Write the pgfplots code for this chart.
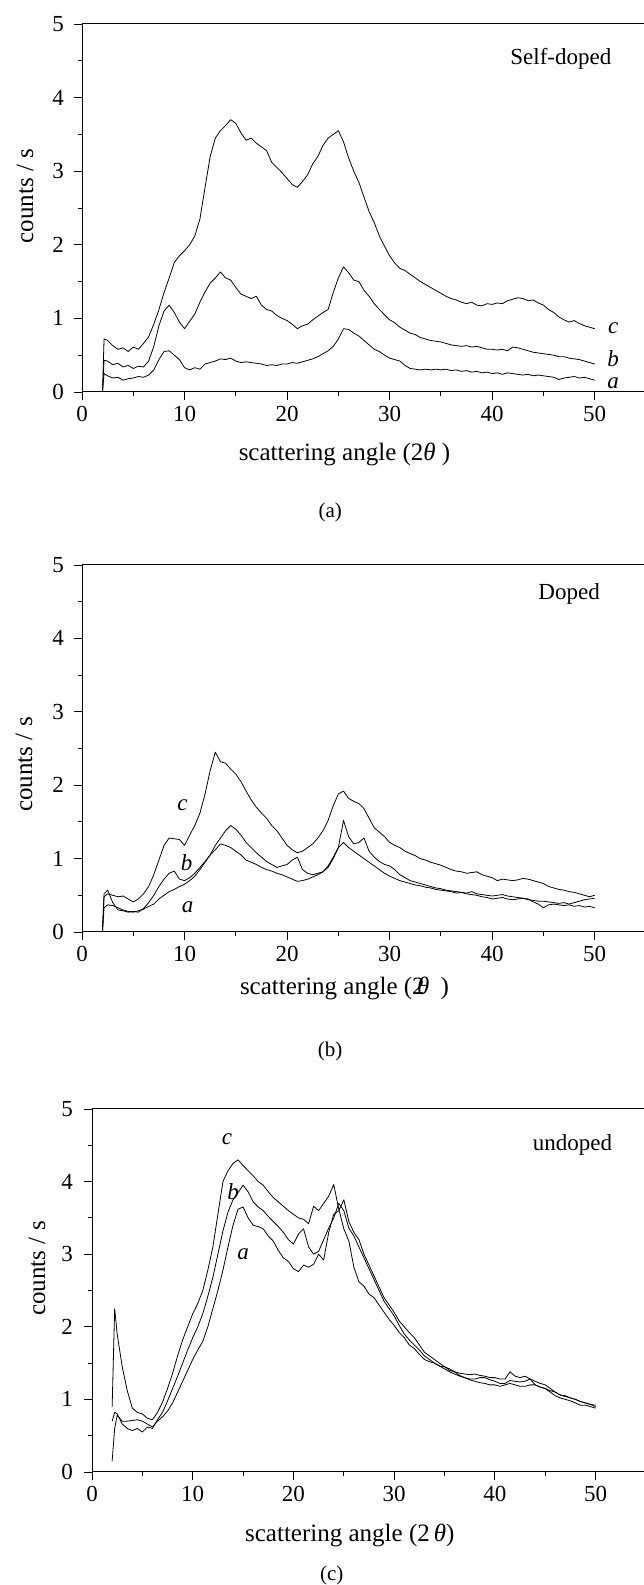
\documentclass[border=0pt]{standalone}
\usepackage{fontspec}
\setmainfont{Liberation Serif}
\usepackage{pgfplots}
\pgfplotsset{compat=1.18}
\usepackage{pgfplotstable}

\pgfplotstableread{
x a b c
2.0 0 0 0
2.15 0.25 0.43 0.72
2.5 0.22 0.42 0.70
3.0 0.19 0.37 0.63
3.5 0.20 0.39 0.58
4.0 0.16 0.34 0.60
4.5 0.18 0.36 0.55
5.0 0.19 0.32 0.61
5.5 0.21 0.35 0.58
6.0 0.20 0.34 0.66
6.5 0.23 0.42 0.75
7.0 0.30 0.62 0.92
7.5 0.44 0.90 1.12
8.0 0.55 1.10 1.35
8.5 0.56 1.18 1.55
9.0 0.50 1.08 1.76
9.5 0.44 0.95 1.85
10.0 0.33 0.86 1.92
10.5 0.30 0.96 2.00
11.0 0.33 1.06 2.12
11.5 0.31 1.22 2.35
12.0 0.38 1.36 2.78
12.5 0.40 1.48 3.20
13.0 0.42 1.55 3.45
13.5 0.45 1.63 3.55
14.0 0.44 1.55 3.62
14.5 0.46 1.52 3.70
15.0 0.42 1.42 3.65
15.5 0.40 1.33 3.52
16.0 0.41 1.30 3.42
16.5 0.40 1.27 3.45
17.0 0.39 1.30 3.38
17.5 0.38 1.18 3.33
18.0 0.36 1.12 3.28
18.5 0.37 1.10 3.12
19.0 0.36 1.04 3.05
19.5 0.38 1.00 2.98
20.0 0.38 0.97 2.90
20.5 0.40 0.92 2.82
21.0 0.39 0.86 2.78
21.5 0.41 0.90 2.86
22.0 0.43 0.92 2.95
22.5 0.45 0.98 3.10
23.0 0.48 1.03 3.20
23.5 0.52 1.08 3.35
24.0 0.56 1.12 3.45
24.5 0.62 1.35 3.50
25.0 0.72 1.55 3.55
25.5 0.86 1.70 3.40
26.0 0.85 1.62 3.18
26.5 0.80 1.52 3.00
27.0 0.76 1.50 2.85
27.5 0.70 1.38 2.65
28.0 0.64 1.30 2.45
28.5 0.58 1.20 2.30
29.0 0.55 1.12 2.12
29.5 0.50 1.05 1.98
30.0 0.46 0.98 1.85
30.5 0.44 0.94 1.75
31.0 0.42 0.88 1.68
31.5 0.36 0.84 1.65
32.0 0.32 0.80 1.60
32.5 0.31 0.78 1.55
33.0 0.30 0.74 1.50
33.5 0.31 0.72 1.46
34.0 0.30 0.70 1.42
34.5 0.31 0.69 1.38
35.0 0.30 0.68 1.34
35.5 0.31 0.66 1.30
36.0 0.29 0.64 1.27
36.5 0.30 0.63 1.25
37.0 0.28 0.62 1.22
37.5 0.29 0.63 1.20
38.0 0.27 0.61 1.22
38.5 0.28 0.62 1.18
39.0 0.26 0.60 1.17
39.5 0.27 0.58 1.20
40.0 0.25 0.58 1.19
40.5 0.26 0.57 1.21
41.0 0.24 0.58 1.20
41.5 0.26 0.56 1.24
42.0 0.25 0.61 1.26
42.5 0.24 0.60 1.28
43.0 0.23 0.58 1.27
43.5 0.24 0.56 1.24
44.0 0.22 0.54 1.25
44.5 0.23 0.53 1.21
45.0 0.22 0.52 1.18
45.5 0.21 0.51 1.12
46.0 0.20 0.50 1.08
46.5 0.17 0.48 1.02
47.0 0.19 0.48 0.98
47.5 0.20 0.46 0.95
48.0 0.21 0.45 0.97
48.5 0.19 0.44 0.93
49.0 0.20 0.42 0.90
49.5 0.18 0.40 0.88
50.0 0.16 0.38 0.86
}\dataA

\pgfplotstableread{
x a b c
2.0 0 0 0.05
2.15 0.33 0.52 0.48
2.5 0.37 0.57 0.52
3.0 0.36 0.40 0.50
3.5 0.33 0.30 0.48
4.0 0.30 0.29 0.49
4.5 0.28 0.27 0.45
5.0 0.27 0.28 0.41
5.5 0.29 0.27 0.45
6.0 0.31 0.32 0.52
6.5 0.35 0.40 0.62
7.0 0.38 0.50 0.78
7.5 0.45 0.62 0.98
8.0 0.50 0.72 1.18
8.5 0.55 0.80 1.28
9.0 0.58 0.83 1.27
9.5 0.62 0.72 1.26
10.0 0.65 0.70 1.18
10.5 0.70 0.74 1.32
11.0 0.76 0.80 1.45
11.5 0.85 0.88 1.62
12.0 0.95 0.96 1.88
12.5 1.05 1.05 2.20
13.0 1.12 1.18 2.45
13.5 1.20 1.28 2.32
14.0 1.18 1.38 2.30
14.5 1.15 1.45 2.22
15.0 1.10 1.40 2.15
15.5 1.05 1.32 2.05
16.0 0.98 1.22 1.92
16.5 0.95 1.15 1.80
17.0 0.92 1.08 1.70
17.5 0.88 1.02 1.62
18.0 0.85 0.96 1.55
18.5 0.83 0.92 1.45
19.0 0.80 0.88 1.38
19.5 0.78 0.90 1.28
20.0 0.75 0.92 1.18
20.5 0.72 0.98 1.12
21.0 0.69 1.02 1.08
21.5 0.70 0.85 1.10
22.0 0.72 0.80 1.15
22.5 0.75 0.78 1.20
23.0 0.78 0.80 1.28
23.5 0.82 0.82 1.38
24.0 0.90 0.88 1.52
24.5 1.02 1.00 1.72
25.0 1.15 1.15 1.88
25.5 1.22 1.52 1.92
26.0 1.15 1.30 1.82
26.5 1.10 1.20 1.78
27.0 1.05 1.22 1.75
27.5 1.00 1.28 1.68
28.0 0.95 1.10 1.55
28.5 0.90 1.02 1.42
29.0 0.85 0.96 1.36
29.5 0.80 0.92 1.30
30.0 0.76 0.90 1.22
30.5 0.73 0.85 1.18
31.0 0.70 0.78 1.15
31.5 0.68 0.74 1.10
32.0 0.66 0.70 1.07
32.5 0.64 0.68 1.04
33.0 0.63 0.66 1.00
33.5 0.61 0.64 0.98
34.0 0.60 0.62 0.95
34.5 0.58 0.60 0.93
35.0 0.57 0.59 0.91
35.5 0.56 0.57 0.88
36.0 0.55 0.56 0.85
36.5 0.53 0.55 0.83
37.0 0.54 0.54 0.82
37.5 0.52 0.53 0.80
38.0 0.51 0.55 0.81
38.5 0.50 0.52 0.82
39.0 0.48 0.51 0.78
39.5 0.47 0.50 0.76
40.0 0.45 0.49 0.74
40.5 0.46 0.50 0.70
41.0 0.47 0.51 0.72
41.5 0.45 0.49 0.71
42.0 0.44 0.48 0.70
42.5 0.45 0.47 0.71
43.0 0.46 0.46 0.73
43.5 0.45 0.44 0.72
44.0 0.41 0.43 0.70
44.5 0.38 0.42 0.68
45.0 0.33 0.42 0.66
45.5 0.37 0.41 0.62
46.0 0.38 0.40 0.60
46.5 0.37 0.39 0.58
47.0 0.36 0.40 0.57
47.5 0.37 0.38 0.55
48.0 0.35 0.40 0.54
48.5 0.36 0.42 0.52
49.0 0.34 0.44 0.50
49.5 0.35 0.45 0.48
50.0 0.33 0.46 0.50
}\dataB

\pgfplotstableread{
x a b c
2.0 0.15 0.70 0.90
2.25 0.60 0.82 2.25
2.5 0.78 0.80 1.90
3.0 0.70 0.66 1.45
3.5 0.70 0.60 1.12
4.0 0.71 0.57 0.88
4.5 0.72 0.60 0.82
5.0 0.70 0.55 0.80
5.5 0.66 0.62 0.74
6.0 0.62 0.60 0.72
6.5 0.70 0.72 0.82
7.0 0.76 0.82 0.96
7.5 0.84 0.98 1.15
8.0 0.95 1.15 1.36
8.5 1.10 1.32 1.60
9.0 1.25 1.50 1.82
9.5 1.40 1.68 2.00
10.0 1.55 1.85 2.18
10.5 1.68 2.00 2.32
11.0 1.80 2.18 2.50
11.5 2.00 2.42 2.78
12.0 2.25 2.68 3.10
12.5 2.50 3.00 3.55
13.0 2.78 3.32 4.00
13.5 3.10 3.58 4.15
14.0 3.40 3.75 4.25
14.5 3.62 3.85 4.30
15.0 3.65 3.95 4.22
15.5 3.50 3.86 4.15
16.0 3.40 3.72 4.08
16.5 3.38 3.65 4.00
17.0 3.35 3.60 3.95
17.5 3.25 3.52 3.86
18.0 3.18 3.45 3.78
18.5 3.05 3.38 3.72
19.0 2.95 3.30 3.66
19.5 2.90 3.20 3.60
20.0 2.80 3.14 3.55
20.5 2.76 3.28 3.50
21.0 2.85 3.35 3.48
21.5 2.82 3.10 3.42
22.0 2.86 3.00 3.66
22.5 3.00 3.04 3.60
23.0 2.92 3.20 3.70
23.5 3.30 3.36 3.80
24.0 3.55 3.50 3.96
24.5 3.60 3.70 3.62
25.0 3.75 3.60 3.35
25.5 3.45 3.36 3.18
26.0 3.30 3.25 2.82
26.5 3.20 3.10 2.62
27.0 3.00 2.95 2.56
27.5 2.85 2.80 2.45
28.0 2.70 2.65 2.40
28.5 2.55 2.50 2.30
29.0 2.40 2.35 2.20
29.5 2.30 2.25 2.10
30.0 2.20 2.15 2.02
30.5 2.08 2.02 1.92
31.0 2.00 1.90 1.85
31.5 1.92 1.82 1.75
32.0 1.85 1.75 1.70
32.5 1.75 1.68 1.62
33.0 1.65 1.60 1.55
33.5 1.60 1.55 1.52
34.0 1.55 1.50 1.50
34.5 1.50 1.46 1.46
35.0 1.45 1.42 1.45
35.5 1.42 1.38 1.40
36.0 1.38 1.35 1.38
36.5 1.33 1.32 1.36
37.0 1.30 1.30 1.35
37.5 1.27 1.28 1.34
38.0 1.25 1.28 1.35
38.5 1.23 1.30 1.33
39.0 1.22 1.30 1.32
39.5 1.20 1.27 1.30
40.0 1.20 1.25 1.30
40.5 1.18 1.22 1.28
41.0 1.20 1.22 1.28
41.5 1.22 1.26 1.38
42.0 1.20 1.25 1.32
42.5 1.18 1.24 1.30
43.0 1.18 1.25 1.32
43.5 1.20 1.28 1.28
44.0 1.20 1.20 1.25
44.5 1.17 1.17 1.22
45.0 1.15 1.15 1.20
45.5 1.10 1.12 1.15
46.0 1.05 1.10 1.10
46.5 1.02 1.06 1.06
47.0 1.00 1.04 1.05
47.5 0.98 1.02 1.02
48.0 0.95 1.00 1.00
48.5 0.92 0.97 0.97
49.0 0.92 0.95 0.95
49.5 0.90 0.93 0.93
50.0 0.88 0.92 0.90
}\dataC

\tikzset{
  mylbl/.style={font=\fontsize{23bp}{27bp}\selectfont\itshape, inner sep=0pt},
  mytxt/.style={font=\fontsize{23bp}{27bp}\selectfont},
  mycap/.style={font=\fontsize{21bp}{25bp}\selectfont},
}
\newcommand{\lblfont}{\fontsize{25bp}{29bp}\selectfont}
\pgfplotsset{
  panel/.style={
    scale only axis,
    xmin=0, xmax=55, ymin=0, ymax=5,
    xtick={0,10,...,50}, ytick={0,1,...,5},
    minor x tick num=1, minor y tick num=1,
    tick align=outside, tick pos=left,
    major tick length=8bp, minor tick length=4bp,
    axis line style={line width=1bp},
    every tick/.style={line width=0.9bp, black},
    /pgf/number format/assume math mode=true,
    tick label style={font=\fontsize{23bp}{27bp}\selectfont, inner sep=0pt},
    xticklabel style={yshift=-6bp},
    yticklabel style={xshift=-10bp},
    ylabel={counts / s},
    clip mode=individual,
  },
  ylab/.style 2 args={every axis y label/.style={at={(rel axis cs:0,0.5)}, xshift=#1, yshift=#2, rotate=90, anchor=center, font=\lblfont}},
  xlab/.style={every axis x label/.style={at={(axis cs:25.6,0)}, yshift=#1, anchor=center, font=\lblfont}},
  curve/.style={black, line width=0.8bp, line join=round},
}

\begin{document}
\begin{tikzpicture}
\useasboundingbox (0,0) rectangle (644bp,1585bp);

% panel (a)
\begin{axis}[panel, at={(82bp,1193bp)}, anchor=south west, width=564bp, height=368bp,
  ylab={-57bp}{12bp}, xlab={-62bp},
  xlabel={scattering angle (2\textit{θ} )}]
\addplot[curve] table[x=x,y=a]{\dataA};
\addplot[curve] table[x=x,y=b]{\dataA};
\addplot[curve] table[x=x,y=c]{\dataA};
\node[mylbl] at (axis cs:51.8,0.87) {c};
\node[mylbl] at (axis cs:51.8,0.45) {b};
\node[mylbl] at (axis cs:51.8,0.12) {a};
\node[mytxt] at (axis cs:46.7,4.53) {Self-doped};
\node[mycap] at (axis cs:24.2,0) [yshift=-120bp] {(a)};
\end{axis}

% panel (b)
\begin{axis}[panel, at={(82bp,653bp)}, anchor=south west, width=564bp, height=367bp,
  ylab={-58bp}{-16bp}, xlab={-56bp},
  xlabel={scattering angle (2\kern-0.3em\textit{θ}\hspace{0.45em})}]
\addplot[curve] table[x=x,y=a]{\dataB};
\addplot[curve] table[x=x,y=b]{\dataB};
\addplot[curve] table[x=x,y=c]{\dataB};
\node[mylbl] at (axis cs:9.8,1.73) {c};
\node[mylbl] at (axis cs:10.2,0.95) {b};
\node[mylbl] at (axis cs:10.3,0.34) {a};
\node[mytxt] at (axis cs:47.5,4.6) {Doped};
\node[mycap] at (axis cs:24.2,0) [yshift=-119bp] {(b)};
\end{axis}

% panel (c)
\begin{axis}[panel, at={(92bp,113bp)}, anchor=south west, width=554bp, height=363bp,
  yticklabel style={xshift=-1bp},
  ylab={-55bp}{22bp}, xlab={-63bp},
  xlabel={scattering angle (2\,\textit{θ})}]
\addplot[curve] table[x=x,y=a]{\dataC};
\addplot[curve] table[x=x,y=b]{\dataC};
\addplot[curve] table[x=x,y=c]{\dataC};
\node[mylbl] at (axis cs:13.4,4.58) {c};
\node[mylbl] at (axis cs:14.0,3.86) {b};
\node[mylbl] at (axis cs:15.0,3.0) {a};
\node[mytxt] at (axis cs:47.7,4.5) {undoped};
\node[mycap] at (axis cs:23.8,0) [yshift=-103bp] {(c)};
\end{axis}
\end{tikzpicture}
\end{document}
